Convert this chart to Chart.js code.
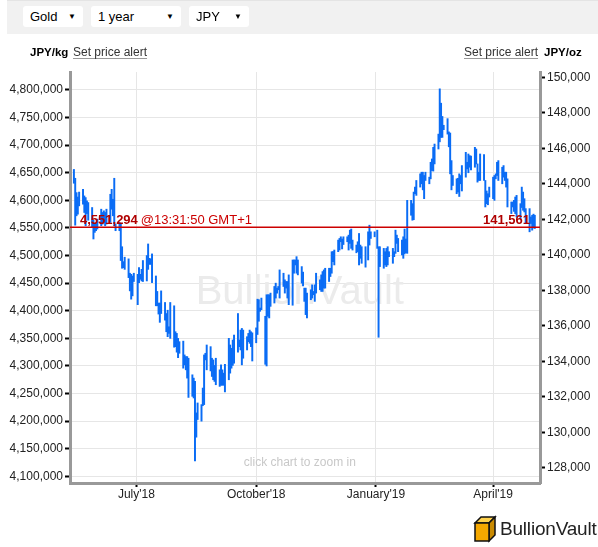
<!DOCTYPE html>
<html>
<head>
<meta charset="utf-8">
<script src="https://cdn.jsdelivr.net/npm/chart.js@4.4.1/dist/chart.umd.min.js"></script>
<style>
html,body{margin:0;padding:0;background:#fff;width:598px;height:547px;overflow:hidden;font-family:"Liberation Sans",Arial,sans-serif;}
#wrap{position:relative;width:598px;height:547px;}
#c{position:absolute;left:0;top:0;}
#topbar{position:absolute;left:7px;top:0;width:591px;height:34px;background:#f1f1f1;border-top:1px solid #e4e4e4;box-sizing:border-box;}
.sel{position:absolute;top:5px;height:21px;background:#fff;border-radius:3px;font-size:13px;line-height:21px;color:#000;}
.sel .t{position:absolute;left:7px;top:0;}
.sel .a{position:absolute;right:7px;top:0;font-size:8px;}
.hdr{position:absolute;top:45px;font-size:12px;color:#222;white-space:nowrap;line-height:14px;}
.b{font-weight:bold;font-size:11.5px;color:#000;}
.u{text-decoration:underline;text-decoration-color:#999;text-underline-offset:2px;color:#333;}
#logo{position:absolute;left:473px;top:515px;width:125px;height:28px;}
#logo span{position:absolute;left:27px;top:3px;font-size:19px;color:#222;letter-spacing:-0.2px;}
</style>
</head>
<body>
<div id="wrap">
  <canvas id="c" width="598" height="547"></canvas>
  <div id="topbar">
    <div class="sel" style="left:16px;width:60px;"><span class="t">Gold</span><span class="a">▼</span></div>
    <div class="sel" style="left:84px;width:90px;"><span class="t">1 year</span><span class="a">▼</span></div>
    <div class="sel" style="left:182px;width:60px;"><span class="t">JPY</span><span class="a">▼</span></div>
  </div>
  <div class="hdr" style="left:30px;"><span class="b">JPY/kg</span></div>
  <div class="hdr u" style="left:73px;">Set price alert</div>
  <div class="hdr u" style="left:464px;">Set price alert</div>
  <div class="hdr" style="left:544px;"><span class="b">JPY/oz</span></div>
  <div id="logo">
    <svg width="24" height="28" viewBox="0 0 24 28" style="position:absolute;left:0;top:0;">
      <polygon points="2,8 8,2 22,2 16,8" fill="#ffd24d" stroke="#111" stroke-width="1.5"/>
      <polygon points="16,8 22,2 22,20 16,26" fill="#c98a00" stroke="#111" stroke-width="1.5"/>
      <rect x="2" y="8" width="14" height="18" fill="#f5a800" stroke="#111" stroke-width="1.5"/>
    </svg>
    <span>BullionVault</span>
  </div>
</div>
<script>
// ---- data (gold price, JPY per kg, one bar per trading day) ----
const startDate = '2018-05-14';
const highs = [
  4656000,4640000,4614000,4606000,4615000, 4620000,4608000,4605000,4599000,4596000,
  4587000,4564000,4557000,4558000,4566000, 4584000,4578000,4581000,4578000,4584000,
  4611000,4620000,4602000,4640000,4557000, 4560000,4557000,4516000,4489000,4497000,
  4494000,4468000,4466000,4463000,4468000, 4466000,4478000,4466000,4475000,4491000,
  4500000,4521000,4495000,4494000,4503000, 4463000,4435000,4414000,4414000,4436000,
  4415000,4395000,4401000,4371000,4415000, 4409000,4362000,4359000,4350000,4344000,
  4345000,4320000,4317000,4317000,4314000, 4284000,4278000,4272000,4215000,4233000,
  4230000,4260000,4320000,4323000,4338000, 4335000,4314000,4311000,4301000,4314000,
  4293000,4302000,4293000,4287000,4303000, 4350000,4338000,4332000,4347000,4356000,
  4395000,4347000,4365000,4368000,4365000, 4353000,4359000,4365000,4362000,
  4360000,
  4369000,4421000,4420000,4405000,4423000, 4390000,4429000,4429000,4429000,4432000,
  4444000,4450000,4441000,4444000,4474000, 4468000,4456000,4453000,4453000,4465000,
  4492000,4492000,4492000,4498000,4492000, 4480000,4470000,4441000,4441000,4432000,
  4438000,4447000,4435000,4447000,4468000, 4456000,4465000,4471000,4474000,4477000,
  4477000,4477000,4507000,4507000,4510000, 4528000,4531000,4534000,4530000,4534000,
  4534000,4537000,4546000,4548000,4528000, 4519000,4525000,4540000,4519000,4516000,
  4516000,null,4543000,4555000,4543000, 4543000,null,4546000,4516000,4516000,
  4513000,4507000,4513000,4516000,4507000, 4513000,4507000,4546000,4537000,4531000,
  4528000,4534000,4548000,4530000,4600000, 4600000,4594000,4615000,4624000,4636000,
  4648000,4651000,4651000,4645000,4651000, 4642000,4669000,4675000,4696000,4702000,
  4720000,
  4802000,4776000,4752000,4736000,
  4748000,4724000,4722000,4672000,4645000, 4639000,4640000,4648000,4645000,4663000,
  4687000,4669000,4684000,4681000,4680000, 4696000,4693000,4666000,4651000,4684000,
  4683000,4636000,4617000,4612000,4624000, 4642000,4645000,4648000,4669000,4672000,
  4660000,4663000,4651000,4651000,4639000, 4597000,4597000,4600000,4606000,4609000,
  4594000,4624000,4615000,4603000,4585000, 4585000,4570000,4573000,4575000,4573000
];
const lows = [
  4631000,4555000,4572000,4575000,4590000, 4593000,4578000,4554000,4576000,4564000,
  4551000,4530000,4542000,4545000,4548000, 4554000,4557000,4560000,4554000,4557000,
  4560000,4584000,4572000,4554000,4545000, 4545000,4491000,4477000,4478000,4475000,
  4460000,4436000,4421000,4427000,4453000, 4411000,4451000,4457000,4454000,4453000,
  4454000,4475000,4484000,4484000,4451000, 4409000,4409000,4394000,4379000,4395000,
  4383000,4362000,4353000,4359000,4350000, 4334000,4335000,4325000,4315000,4323000,
  4296000,4302000,4293000,4278000,4243000, 4245000,4242000,4128000,4171000,4203000,
  4200000,4228000,4230000,4311000,4293000, 4291000,4281000,4275000,4272000,4266000,
  4263000,4265000,4265000,4265000,4253000, 4275000,4287000,4296000,4301000,4305000,
  4325000,4335000,4329000,4302000,4314000, 4329000,4344000,4341000,4335000,
  4309000,
  4342000,4357000,4381000,4399000,4402000, 4303000,4300000,4390000,4387000,4408000,
  4414000,4423000,4432000,4438000,4423000, 4444000,4432000,4441000,4423000,4411000,
  4410000,4468000,4483000,4468000,4465000, 4450000,4445000,4417000,4393000,4387000,
  4420000,4423000,4429000,4417000,4432000, 4438000,4435000,4435000,4441000,4441000,
  4453000,4462000,4468000,4489000,4483000, 4507000,4510000,4525000,4512000,4520000,
  4525000,4510000,4522000,4513000,4510000, 4505000,4507000,4483000,4495000,4486000,
  4479000,null,4492000,4519000,4531000, 4534000,null,4513000,4352000,4480000,
  4477000,4483000,4480000,4483000,4498000, 4486000,4498000,4504000,4522000,4507000,
  4501000,4495000,4503000,4505000,4504000, 4573000,4564000,4565000,4612000,4609000,
  4624000,4630000,4619000,4603000,4636000, 4630000,4639000,4654000,4653000,4666000,
  4693000,
  4706000,4714000,4714000,4728000,
  4720000,4697000,4648000,4619000,4627000, 4612000,4615000,4607000,4630000,4617000,
  4642000,4657000,4650000,4660000,4655000, 4660000,4666000,4633000,4636000,4636000,
  4636000,4588000,4594000,4592000,4606000, 4603000,4600000,4639000,4645000,4636000,
  4630000,4642000,4636000,4624000,4588000, 4576000,4588000,4580000,4576000,4570000,
  4567000,4587000,4582000,4579000,4558000, 4543000,4558000,4546000,4550000,4549000
];
const tickDates  = ['2018-07-01','2018-10-01','2019-01-01','2019-04-01'];
const tickLabels = ["July'18","October'18","January'19","April'19"];
const currentKg = 4551294;
const currentOz = 141561;
const currentTime = '@13:31:50 GMT+1';
const rangeStart = '2018-05-11';
const rangeEnd = '2019-05-07';
const kgMin = 4088000, kgMax = 4832500;
const kgStep = 50000, ozStep = 2000;

// ---- build ----
const dayNum = s => Date.UTC(+s.slice(0,4), +s.slice(5,7)-1, +s.slice(8,10)) / 86400000;
const xs = [];
for (let d = dayNum(startDate); xs.length < highs.length; d++) {
  const wd = new Date(d * 86400000).getUTCDay();
  if (wd !== 0 && wd !== 6) xs.push(d);
}
const bars = [];
xs.forEach((x, i) => { if (highs[i] != null) bars.push({x: x, y: [lows[i], highs[i]]}); });
const kgPerOz = currentKg / currentOz;

const stepTicks = (s, step) => {
  const out = [];
  for (let v = Math.ceil(s.min / step) * step; v <= s.max; v += step) out.push({value: v});
  s.ticks = out;
};

const tickFont = {family: '"Liberation Sans", Arial, sans-serif', size: 12};
const fmt = v => Number(v).toLocaleString('en-US');

const overlay = {
  id: 'overlay',
  beforeDatasetsDraw(chart) {
    const {ctx, chartArea: a} = chart;
    ctx.save();
    ctx.fillStyle = '#ebebeb';
    ctx.font = '40px "Liberation Sans", Arial, sans-serif';
    ctx.textAlign = 'center';
    ctx.textBaseline = 'alphabetic';
    ctx.fillText('BullionVault', a.left + (a.right - a.left) * 0.489, a.top + 232);
    ctx.fillStyle = '#c8c8c8';
    ctx.font = '12px "Liberation Sans", Arial, sans-serif';
    ctx.textBaseline = 'middle';
    ctx.fillText('click chart to zoom in', a.left + (a.right - a.left) * 0.489, a.bottom - 20);
    ctx.restore();
  },
  afterDatasetsDraw(chart) {
    const {ctx, chartArea: a, scales} = chart;
    const y = scales.yKg.getPixelForValue(currentKg);
    ctx.save();
    ctx.strokeStyle = '#cc0000';
    ctx.lineWidth = 1.5;
    ctx.beginPath();
    ctx.moveTo(a.left, y);
    ctx.lineTo(a.right, y);
    ctx.stroke();
    ctx.textBaseline = 'alphabetic';
    ctx.font = 'bold 13px "Liberation Sans", Arial, sans-serif';
    ctx.fillStyle = '#b00000';
    ctx.textAlign = 'left';
    const t1 = fmt(currentKg);
    ctx.fillText(t1, a.left + 10, y - 3);
    const w1 = ctx.measureText(t1).width;
    ctx.font = '13px "Liberation Sans", Arial, sans-serif';
    ctx.fillStyle = '#cc0000';
    ctx.fillText(currentTime, a.left + 10 + w1 + 3, y - 3);
    ctx.font = 'bold 13px "Liberation Sans", Arial, sans-serif';
    ctx.fillStyle = '#b00000';
    ctx.textAlign = 'right';
    ctx.fillText(fmt(currentOz), a.right - 10, y - 3);
    ctx.restore();
  }
};

new Chart(document.getElementById('c'), {
  type: 'bar',
  data: {
    datasets: [{
      data: bars,
      backgroundColor: '#0a6cf5',
      borderWidth: 0,
      barThickness: 1.3,
      grouped: false,
      xAxisID: 'x',
      yAxisID: 'yKg'
    }]
  },
  options: {
    responsive: false,
    animation: false,
    events: [],
    layout: {padding: {left: 0, right: 0, top: 72, bottom: 34}},
    plugins: {legend: {display: false}, tooltip: {enabled: false}},
    scales: {
      x: {
        type: 'linear',
        offset: false,
        min: dayNum(rangeStart),
        max: dayNum(rangeEnd),
        afterBuildTicks: s => { s.ticks = tickDates.map(t => ({value: dayNum(t)})); },
        afterFit: s => { s.height = 30; },
        ticks: {autoSkip: false, maxRotation: 0, padding: 0, color: '#222', font: tickFont,
                callback: (v, i) => tickLabels[i]},
        grid: {offset: false, color: '#e6e6e6', lineWidth: 1, tickColor: '#000', tickLength: 4, tickWidth: 2},
        border: {color: '#999', width: 3}
      },
      yKg: {
        type: 'linear',
        position: 'left',
        min: kgMin,
        max: kgMax,
        afterFit: s => { s.width = 70; },
        afterBuildTicks: s => stepTicks(s, kgStep),
        ticks: {autoSkip: false, padding: 2, color: '#222', font: tickFont, callback: v => fmt(v)},
        grid: {offset: false, color: '#e6e6e6', lineWidth: 1, tickColor: '#000', tickLength: 5, tickWidth: 2},
        border: {color: '#999', width: 3}
      },
      yOz: {
        type: 'linear',
        position: 'right',
        min: kgMin / kgPerOz,
        max: kgMax / kgPerOz,
        afterFit: s => { s.width = 58; },
        afterBuildTicks: s => stepTicks(s, ozStep),
        ticks: {autoSkip: false, padding: 2, color: '#222', font: tickFont, callback: v => fmt(v)},
        grid: {offset: false, drawOnChartArea: false, tickColor: '#000', tickLength: 5, tickWidth: 2},
        border: {color: '#999', width: 3}
      }
    }
  },
  plugins: [overlay]
});
</script>
</body>
</html>
